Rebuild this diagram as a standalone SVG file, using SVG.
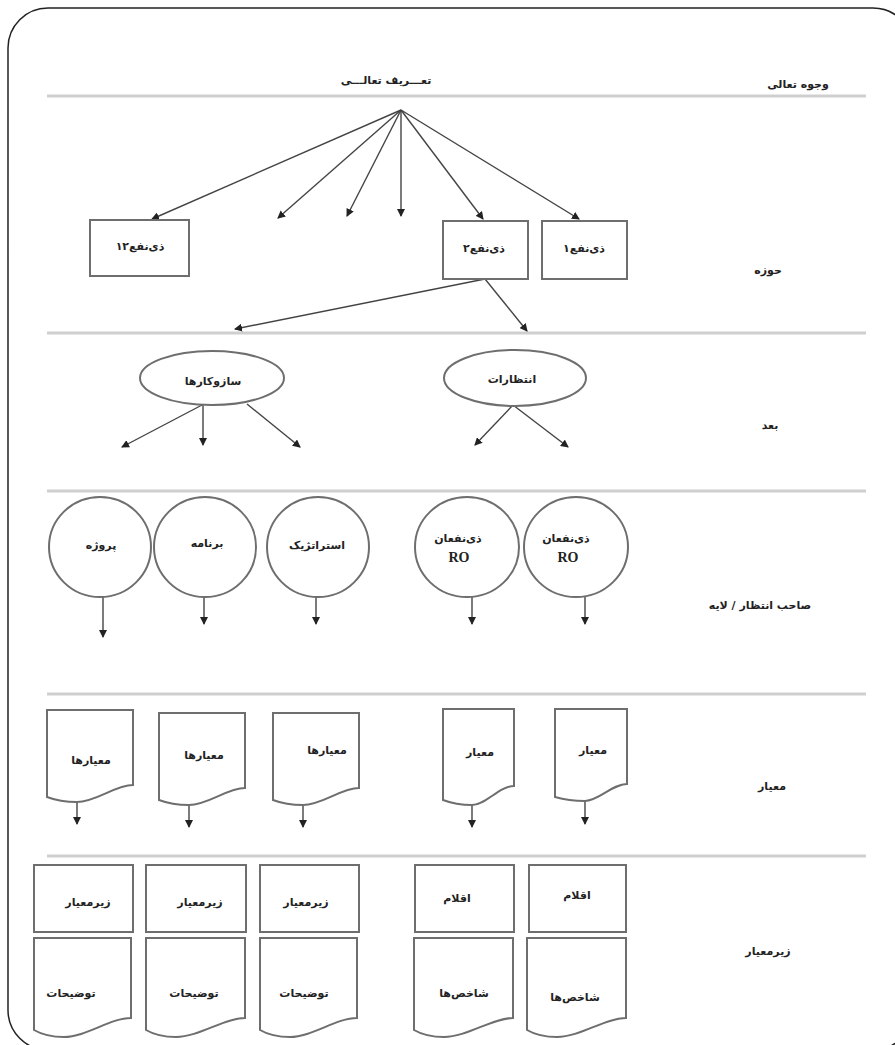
<svg xmlns="http://www.w3.org/2000/svg" width="895" height="1045" viewBox="0 0 895 1045">
<defs>
<marker id="ah" markerUnits="userSpaceOnUse" markerWidth="8" markerHeight="8" refX="7" refY="4" orient="auto">
<path d="M0,0 L8,4 L0,8 z" fill="#222"/>
</marker>
<style>
.frame{fill:none;stroke:#222;stroke-width:1.5}
.sep{stroke:#cfcfcf;stroke-width:3}
.shp{fill:#fff;stroke:#6e6e6e;stroke-width:2}
.arr{stroke:#444;stroke-width:1.4;fill:none;marker-end:url(#ah)}
.t{font-family:"DejaVu Sans",sans-serif;font-size:11px;font-weight:bold;fill:#222;text-anchor:middle;dominant-baseline:central}
.ro{font-family:"Liberation Serif",serif;font-size:14px;font-weight:bold;fill:#222;text-anchor:middle;dominant-baseline:central}
</style>
</defs>
<rect width="895" height="1045" fill="#fff"/>
<rect class="frame" x="8" y="8" width="905" height="1042" rx="40" ry="40"/>
<g id="separators">
<line class="sep" x1="47" y1="96" x2="866" y2="96"/>
<line class="sep" x1="47" y1="333" x2="866" y2="333"/>
<line class="sep" x1="47" y1="491" x2="866" y2="491"/>
<line class="sep" x1="47" y1="694" x2="866" y2="694"/>
<line class="sep" x1="47" y1="856" x2="866" y2="856"/>
</g>
<g id="row-labels">
<text class="t" x="798" y="84">وجوه تعالی</text>
<text class="t" x="768" y="270">حوزه</text>
<text class="t" x="770" y="425">بعد</text>
<text class="t" x="760" y="605">صاحب انتظار / لایه</text>
<text class="t" x="772" y="786">معیار</text>
<text class="t" x="768" y="951">زیرمعیار</text>
</g>
<g id="title"><text class="t" x="386" y="80">تعـــریف تعالـــی</text></g>
<g id="connectors">
<line class="arr" x1="401" y1="110" x2="152" y2="219"/>
<line class="arr" x1="401" y1="110" x2="278" y2="218"/>
<line class="arr" x1="401" y1="110" x2="347" y2="216"/>
<line class="arr" x1="401" y1="110" x2="401" y2="216"/>
<line class="arr" x1="401" y1="110" x2="483" y2="219"/>
<line class="arr" x1="401" y1="110" x2="579" y2="219"/>
<line class="arr" x1="485" y1="279" x2="235" y2="329"/>
<line class="arr" x1="485" y1="279" x2="527" y2="331"/>
<line class="arr" x1="202" y1="405" x2="122" y2="447"/>
<line class="arr" x1="203" y1="405" x2="203" y2="445"/>
<line class="arr" x1="247" y1="404" x2="300" y2="447"/>
<line class="arr" x1="513" y1="405" x2="475" y2="445"/>
<line class="arr" x1="513" y1="405" x2="568" y2="447"/>
<line class="arr" x1="103" y1="597" x2="103" y2="637"/>
<line class="arr" x1="204" y1="597" x2="204" y2="624"/>
<line class="arr" x1="316" y1="597" x2="316" y2="624"/>
<line class="arr" x1="472" y1="597" x2="472" y2="624"/>
<line class="arr" x1="585" y1="596" x2="585" y2="624"/>
<line class="arr" x1="77" y1="802" x2="77" y2="824"/>
<line class="arr" x1="189" y1="805" x2="189" y2="827"/>
<line class="arr" x1="303" y1="805" x2="303" y2="827"/>
<line class="arr" x1="472" y1="805" x2="472" y2="827"/>
<line class="arr" x1="585" y1="801" x2="585" y2="824"/>
</g>
<g id="box-12"><rect class="shp" x="90" y="220" width="99" height="56"/><text class="t" x="140" y="246">ذی‌نفع۱۲</text></g>
<g id="box-2"><rect class="shp" x="443" y="221" width="85" height="58"/><text class="t" x="484" y="248">ذی‌نفع۲</text></g>
<g id="box-1"><rect class="shp" x="542" y="221" width="85" height="58"/><text class="t" x="584" y="248">ذی‌نفع۱</text></g>
<g id="ellipse-mechanisms"><ellipse class="shp" cx="212" cy="378" rx="72" ry="27"/><text class="t" x="213" y="381">سازوکارها</text></g>
<g id="ellipse-expectations"><ellipse class="shp" cx="515" cy="378" rx="71" ry="28"/><text class="t" x="512" y="379">انتظارات</text></g>
<g id="circle-project"><ellipse class="shp" cx="100" cy="547" rx="51" ry="50"/><text class="t" x="101" y="545">پروژه</text></g>
<g id="circle-program"><ellipse class="shp" cx="205" cy="547" rx="51" ry="50"/><text class="t" x="207" y="543">برنامه</text></g>
<g id="circle-strategic"><ellipse class="shp" cx="318" cy="547" rx="51" ry="50"/><text class="t" x="317" y="545">استراتژیک</text></g>
<g id="circle-ro-2"><ellipse class="shp" cx="467" cy="547" rx="52" ry="50"/><text class="t" x="458" y="538">ذی‌نفعان</text><text class="ro" x="459" y="557">RO</text></g>
<g id="circle-ro-1"><ellipse class="shp" cx="576" cy="547" rx="52" ry="50"/><text class="t" x="566" y="538">ذی‌نفعان</text><text class="ro" x="568" y="557">RO</text></g>
<g id="doc-c1"><path class="shp" d="M47,710 H133 V785 C115,785 96,802 77,802 Q60,802 47,797 Z"/><text class="t" x="91" y="760">معیارها</text></g>
<g id="doc-c2"><path class="shp" d="M159,713 H245 V788 C227,788 208,805 189,805 Q172,805 159,800 Z"/><text class="t" x="204" y="755">معیارها</text></g>
<g id="doc-c3"><path class="shp" d="M273,713 H359 V788 C341,788 322,805 303,805 Q286,805 273,800 Z"/><text class="t" x="327" y="750">معیارها</text></g>
<g id="doc-c4"><path class="shp" d="M443,709 H514 V786 C499,786 486,805 472,805 Q456,805 443,800 Z"/><text class="t" x="480" y="752">معیار</text></g>
<g id="doc-c5"><path class="shp" d="M555,709 H627 V784 C612,784 599,801 585,801 Q569,801 555,797 Z"/><text class="t" x="593" y="750">معیار</text></g>
<g id="sub-1"><rect class="shp" x="34" y="865" width="99" height="67"/><text class="t" x="88" y="902">زیرمعیار</text></g>
<g id="sub-2"><rect class="shp" x="146" y="865" width="100" height="67"/><text class="t" x="200" y="902">زیرمعیار</text></g>
<g id="sub-3"><rect class="shp" x="260" y="865" width="99" height="67"/><text class="t" x="306" y="902">زیرمعیار</text></g>
<g id="sub-4"><rect class="shp" x="415" y="865" width="99" height="67"/><text class="t" x="457" y="898">اقلام</text></g>
<g id="sub-5"><rect class="shp" x="529" y="865" width="97" height="67"/><text class="t" x="577" y="895">اقلام</text></g>
<g id="desc-1"><path class="shp" d="M34,938 H131 V1018 C110,1018 86,1037 64,1037 Q46,1037 34,1030 Z"/><text class="t" x="71" y="993">توضیحات</text></g>
<g id="desc-2"><path class="shp" d="M146,938 H245 V1018 C224,1018 199,1037 176,1037 Q158,1037 146,1030 Z"/><text class="t" x="194" y="993">توضیحات</text></g>
<g id="desc-3"><path class="shp" d="M260,938 H357 V1018 C336,1018 312,1037 290,1037 Q272,1037 260,1030 Z"/><text class="t" x="304" y="993">توضیحات</text></g>
<g id="ind-2"><path class="shp" d="M414,938 H513 V1018 C492,1018 467,1037 444,1037 Q426,1037 414,1030 Z"/><text class="t" x="464" y="993">شاخص‌ها</text></g>
<g id="ind-1"><path class="shp" d="M527,938 H626 V1018 C605,1018 580,1037 557,1037 Q539,1037 527,1030 Z"/><text class="t" x="575" y="997">شاخص‌ها</text></g>
</svg>
